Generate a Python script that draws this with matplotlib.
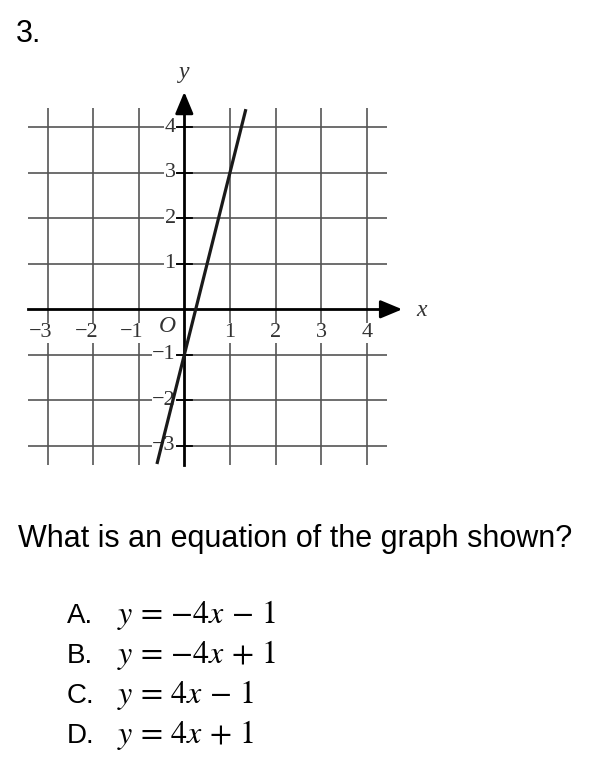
import numpy as np
import matplotlib.pyplot as plt

plt.rcParams['mathtext.fontset'] = 'stix'

# data
grid_x = [-3, -2, -1, 1, 2, 3, 4]
grid_y = [-3, -2, -1, 1, 2, 3, 4]
x_labels = ['\u22123', '\u22122', '\u22121', '1', '2', '3', '4']
y_labels = ['\u22123', '\u22122', '\u22121', '1', '2', '3', '4']
line_x = [-0.6, 1.35]
line_y = [-3.4, 4.4]

letters = ['A.', 'B.', 'C.', 'D.']
equations = [r'$y\,=\,{-}4x\,-\,1$', r'$y\,=\,{-}4x\,+\,1$',
             r'$y\,=\,4x\,-\,1$', r'$y\,=\,4x\,+\,1$']

W, H = 608, 780
fig = plt.figure(figsize=(W / 100, H / 100), dpi=100)


def px(x, y):
    return x / W, 1 - y / H


ax = fig.add_axes([24.7 / W, 1 - 473.1 / H, 401.3 / W, 414 / H])
ax.set_xlim(-3.5, 5.3)
ax.set_ylim(-3.6, 5.5)
ax.axis('off')

gc = '#555555'
ax.vlines(grid_x, -3.42, 4.42, color=gc, lw=1.2, zorder=1)
ax.hlines(grid_y, -3.42, 4.44, color=gc, lw=1.2, zorder=1)

# axes with arrows
ax.plot([-3.42, 4.5], [0, 0], color='k', lw=2.0, zorder=2)
ax.plot([0, 0], [-3.42, 4.5], color='k', lw=2.0, zorder=2)
ax.annotate('', xy=(4.84, 0), xytext=(4.3, 0),
            arrowprops=dict(arrowstyle='-|>,head_length=0.6,head_width=0.25',
                            color='k', lw=2.0, mutation_scale=22), zorder=2)
ax.annotate('', xy=(0, 4.84), xytext=(0, 4.3),
            arrowprops=dict(arrowstyle='-|>,head_length=0.6,head_width=0.25',
                            color='k', lw=2.0, mutation_scale=22), zorder=2)

serif = 'Liberation Serif'
box = dict(facecolor='white', edgecolor='none', pad=0.3)
for v, lab in zip(grid_x, x_labels):
    off = -0.15 if v < 0 else 0
    ax.text(v + off, -0.52, lab, family=serif, size=16, ha='center', va='center',
            color='#333333', bbox=box, zorder=3)
for v, lab in zip(grid_y, y_labels):
    ax.plot([-0.17, 0.17], [v, v], color='k', lw=1.3, zorder=2)
    ax.text(-0.19, v, lab, family=serif, size=16, ha='right', va='center',
            color='#333333', bbox=box, zorder=3)
ax.text(-0.37, -0.38, 'O', family=serif, style='italic', size=17, ha='center', va='center',
        color='#333333', zorder=3)
ax.text(0, 5.2, 'y', family=serif, style='italic', size=17, ha='center', va='center',
        color='#333333')
ax.text(5.2, -0.02, 'x', family=serif, style='italic', size=17, ha='center', va='center',
        color='#333333')

ax.plot(line_x, line_y, color='#1a1a1a', lw=2.3, zorder=4, solid_capstyle='butt')

sans = 'Liberation Sans'
fig.text(*px(16, 42), '3.', family=sans, size=22, va='baseline')
fig.text(*px(18, 547), 'What is an equation of the graph shown?', family=sans, size=22,
         va='baseline')

for i, (let, eq) in enumerate(zip(letters, equations)):
    yb = 623 + 40 * i
    fig.text(*px(67, yb), let, family=sans, size=20, va='baseline')
    fig.text(*px(117, yb), eq, size=23, va='baseline')

fig.savefig('out.png', dpi=100)
